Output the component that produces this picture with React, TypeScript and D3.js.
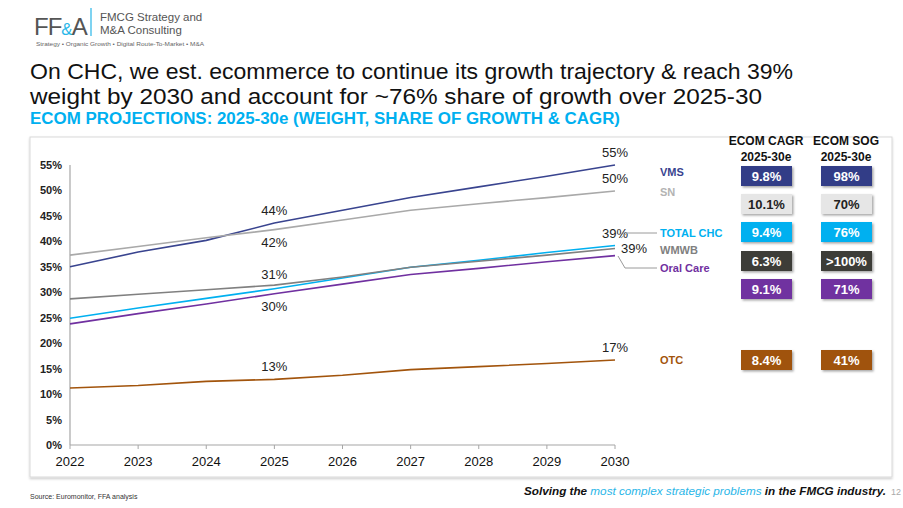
import React from "react";
import * as d3 from "d3";

const years = [2022, 2023, 2024, 2025, 2026, 2027, 2028, 2029, 2030];
const vms = [35.0, 37.9, 40.2, 43.6, 46.1, 48.6, 50.7, 52.8, 55.0];
const sn = [37.3, 39.0, 40.7, 42.3, 44.2, 46.1, 47.4, 48.6, 49.9];
const totalChc = [24.9, 26.9, 28.8, 30.7, 32.8, 34.9, 36.3, 37.8, 39.2];
const wmwb = [28.7, 29.6, 30.5, 31.4, 33.0, 34.9, 36.1, 37.3, 38.6];
const oralCare = [23.8, 25.8, 27.7, 29.7, 31.6, 33.5, 34.7, 36.0, 37.2];
const otc = [11.2, 11.7, 12.5, 12.9, 13.7, 14.8, 15.4, 16.0, 16.7];

const yTicks = [0, 5, 10, 15, 20, 25, 30, 35, 40, 45, 50, 55];

const seriesNames = ["VMS", "SN", "TOTAL CHC", "WMWB", "Oral Care", "OTC"];
const seriesColors = ["#39448f", "#a9a9a9", "#00b0f0", "#808080", "#7030a0", "#a2540c"];
const cagrLabels = ["9.8%", "10.1%", "9.4%", "6.3%", "9.1%", "8.4%"];
const sogLabels = ["98%", "70%", "76%", ">100%", "71%", "41%"];
const boxFills = ["#333d87", "#e6e6e6", "#00b0f0", "#3d3d38", "#7030a0", "#a0520a"];
const boxText = ["#ffffff", "#222222", "#ffffff", "#ffffff", "#ffffff", "#ffffff"];

const legendY = [172, 192, 233, 250, 268, 360];
const boxY = [176, 204, 232, 261, 289, 360];

const mid2025 = [
  { label: "44%", series: 0, dy: -12 },
  { label: "42%", series: 1, dy: 13 },
  { label: "31%", series: 3, dy: -10 },
  { label: "30%", series: 4, dy: 13 },
  { label: "13%", series: 5, dy: -12 },
];

export default function App() {
  const W = 903;
  const H = 508;
  const x = d3.scaleLinear().domain([2022, 2030]).range([70, 615]);
  const y = d3.scaleLinear().domain([0, 55]).range([445, 165]);
  const data = [vms, sn, totalChc, wmwb, oralCare, otc];
  const line = d3
    .line<number>()
    .x((_, i) => x(years[i]))
    .y((d) => y(d));

  const font = "Arial, 'Liberation Sans', sans-serif";
  const idx2025 = years.indexOf(2025);
  const last = years.length - 1;

  return (
    <svg
      width={W}
      height={H}
      viewBox={`0 0 ${W} ${H}`}
      style={{ position: "absolute", left: 0, top: 0, background: "#fff" }}
      fontFamily={font}
    >
      <defs>
        <filter id="sh" x="-10%" y="-10%" width="130%" height="150%">
          <feDropShadow dx="1.5" dy="1.5" stdDeviation="1" floodColor="#000" floodOpacity="0.35" />
        </filter>
        <filter id="psh" x="-5%" y="-5%" width="110%" height="110%">
          <feDropShadow dx="0" dy="1.5" stdDeviation="1" floodColor="#000" floodOpacity="0.2" />
        </filter>
      </defs>

      {/* Logo */}
      <text x={34} y={35} fontSize={24} fill="#555" letterSpacing={-1}>
        FF
        <tspan fill="#29b6e8" fontSize={17}>&amp;</tspan>
        <tspan>A</tspan>
      </text>
      <line x1={91} x2={91} y1={8} y2={36} stroke="#29b6e8" strokeWidth={1.2} />
      <text x={100} y={21} fontSize={11.5} fill="#555">FMCG Strategy and</text>
      <text x={100} y={34} fontSize={11.5} fill="#555">M&amp;A Consulting</text>
      <text x={36} y={46} fontSize={5.6} fill="#666" textLength={168} lengthAdjust="spacingAndGlyphs">
        Strategy • Organic Growth • Digital Route-To-Market • M&amp;A
      </text>

      {/* Titles */}
      <text x={30} y={79} fontSize={22.5} fill="#111" textLength={763} lengthAdjust="spacingAndGlyphs">
        On CHC, we est. ecommerce to continue its growth trajectory &amp; reach 39%
      </text>
      <text x={30} y={104} fontSize={22.5} fill="#111" textLength={732} lengthAdjust="spacingAndGlyphs">
        weight by 2030 and account for ~76% share of growth over 2025-30
      </text>
      <text x={30} y={124} fontSize={16} fontWeight="bold" fill="#00b0f0" textLength={590} lengthAdjust="spacingAndGlyphs">
        ECOM PROJECTIONS: 2025-30e (WEIGHT, SHARE OF GROWTH &amp; CAGR)
      </text>

      {/* Panel */}
      <rect x={30} y={137} width={862} height={340} fill="#fff" stroke="#d9d9d9" strokeWidth={1} filter="url(#psh)" />

      {/* Y axis */}
      <line x1={x(2022)} x2={x(2022)} y1={y(55)} y2={y(0)} stroke="#a6a6a6" strokeWidth={1.2} />
      {yTicks.map((t) => (
        <text key={t} x={62} y={y(t) + 4} fontSize={11} fontWeight="bold" fill="#222" textAnchor="end">
          {t}%
        </text>
      ))}
      {/* X axis */}
      <line x1={x(2022)} x2={x(2030)} y1={y(0)} y2={y(0)} stroke="#a6a6a6" strokeWidth={1.2} />
      {years.map((yr) => (
        <g key={yr}>
          <line x1={x(yr)} x2={x(yr)} y1={y(0)} y2={y(0) + 4} stroke="#a6a6a6" strokeWidth={1} />
          <text x={x(yr)} y={466} fontSize={13} fill="#111" textAnchor="middle">
            {yr}
          </text>
        </g>
      ))}

      {/* Lines */}
      {data.map((d, i) => (
        <path key={i} d={line(d) || ""} fill="none" stroke={seriesColors[i]} strokeWidth={1.6} />
      ))}

      {/* 2025 labels */}
      {mid2025.map((m) => (
        <text
          key={m.label}
          x={x(2025)}
          y={y(data[m.series][idx2025]) + m.dy + 4}
          fontSize={13}
          fill="#222"
          textAnchor="middle"
        >
          {m.label}
        </text>
      ))}

      {/* 2030 labels */}
      <text x={x(2030)} y={y(vms[last]) - 8} fontSize={13} fill="#222" textAnchor="middle">55%</text>
      <text x={x(2030)} y={y(sn[last]) - 8} fontSize={13} fill="#222" textAnchor="middle">50%</text>
      <text x={x(2030)} y={y(totalChc[last]) - 7} fontSize={13} fill="#222" textAnchor="middle">39%</text>
      <text x={621} y={y(wmwb[last]) + 5} fontSize={13} fill="#222" textAnchor="start">39%</text>
      <text x={x(2030)} y={y(otc[last]) - 8} fontSize={13} fill="#222" textAnchor="middle">17%</text>

      {/* leader lines */}
      <polyline points={`621,238 627,233 657,233`} fill="none" stroke="#9a9a9a" strokeWidth={1} />
      <polyline points={`618,256 625,268 657,268`} fill="none" stroke="#9a9a9a" strokeWidth={1} />

      {/* Legend labels */}
      {seriesNames.map((n, i) => (
        <text key={n} x={660} y={legendY[i] + 4} fontSize={11} fontWeight="bold" fill={seriesColors[i] === "#a9a9a9" ? "#b3b3b3" : seriesColors[i]}>
          {n}
        </text>
      ))}

      {/* Column headers */}
      <text x={766} y={145} fontSize={12} fontWeight="bold" fill="#111" textAnchor="middle">ECOM CAGR</text>
      <text x={766} y={161} fontSize={12} fontWeight="bold" fill="#111" textAnchor="middle">2025-30e</text>
      <text x={846} y={145} fontSize={12} fontWeight="bold" fill="#111" textAnchor="middle">ECOM SOG</text>
      <text x={846} y={161} fontSize={12} fontWeight="bold" fill="#111" textAnchor="middle">2025-30e</text>

      {/* Boxes */}
      {cagrLabels.map((c, i) => (
        <g key={"c" + i}>
          <rect x={741} y={boxY[i] - 10} width={51} height={20} fill={boxFills[i]} filter="url(#sh)" />
          <text x={766.5} y={boxY[i] + 4.5} fontSize={13} fontWeight="bold" fill={boxText[i]} textAnchor="middle">
            {c}
          </text>
        </g>
      ))}
      {sogLabels.map((s, i) => (
        <g key={"s" + i}>
          <rect x={821} y={boxY[i] - 10} width={51} height={20} fill={boxFills[i]} filter="url(#sh)" />
          <text x={846.5} y={boxY[i] + 4.5} fontSize={13} fontWeight="bold" fill={boxText[i]} textAnchor="middle">
            {s}
          </text>
        </g>
      ))}

      {/* Footer */}
      <text x={30} y={499} fontSize={7} fill="#333">Source: Euromonitor, FFA analysis</text>
      <text x={524} y={495} fontSize={11.5} fontWeight="bold" fontStyle="italic" fill="#111" textLength={362} lengthAdjust="spacingAndGlyphs">
        Solving the{" "}
        <tspan fill="#29b6e8" fontWeight="normal">most complex strategic problems</tspan> in the FMCG industry.
      </text>
      <text x={891} y={495} fontSize={9} fill="#aaa">12</text>
    </svg>
  );
}
